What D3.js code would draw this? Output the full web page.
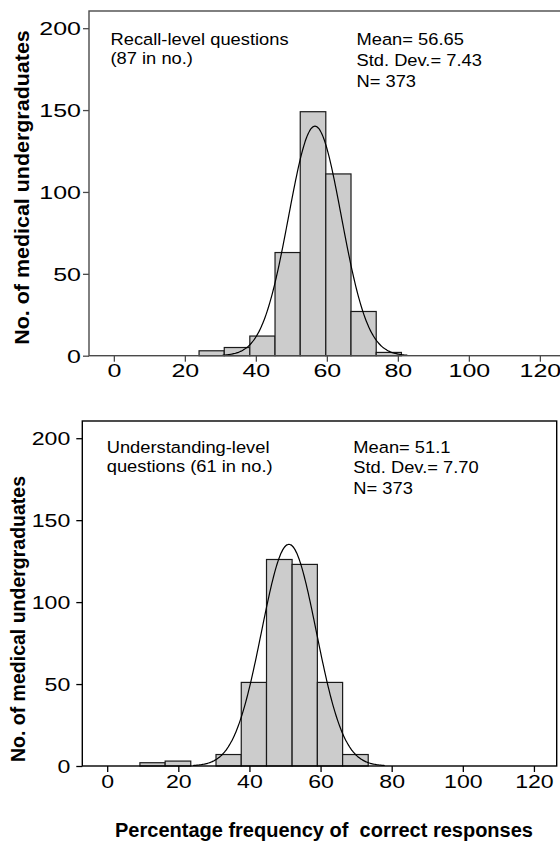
<!DOCTYPE html>
<html>
<head>
<meta charset="utf-8">
<script src="https://cdn.jsdelivr.net/npm/d3@7"></script>
<style>
  html, body { margin: 0; padding: 0; background: #fff; }
  svg { display: block; }
  text { font-family: "Liberation Sans", Arial, sans-serif; fill: #000; }
</style>
</head>
<body>
<svg id="chart" width="560" height="842"></svg>
<script>
// ---------------- data ----------------
const xTicks = [0, 20, 40, 60, 80, 100, 120];
const yTicks = [0, 50, 100, 150, 200];

const recallEdges  = [24.0, 31.1, 38.3, 45.4, 52.5, 59.7, 66.8, 73.9, 81.0];
const recallCounts = [3, 5, 12, 63, 149, 111, 27, 2];
const recallMean = 56.65, recallSD = 7.43, recallN = 373;
const recallLabel = ["Recall-level questions", "(87 in no.)"];
const recallStats = ["Mean= 56.65", "Std. Dev.= 7.43", "N= 373"];

const underEdges  = [9.2, 16.3, 23.5, 30.6, 37.7, 44.8, 52.0, 59.1, 66.2, 73.4];
const underCounts = [2, 3, 0, 7, 51, 126, 123, 51, 7];
const underMean = 51.1, underSD = 7.70, underN = 373;
const underLabel = ["Understanding-level", "questions (61 in no.)"];
const underStats = ["Mean= 51.1", "Std. Dev.= 7.70", "N= 373"];

const curveBinWidth = 7;
const yTitle = "No. of medical undergraduates";
const xTitle = "Percentage frequency of  correct responses";

// ---------------- drawing ----------------
const svg = d3.select("#chart");
const xDomain = [-7, 126.4];
const yDomain = [0, 210.5];

function drawPanel(c) {
  const g = svg.append("g");
  const x = d3.scaleLinear().domain(xDomain).range([c.left, c.right]);
  const y = d3.scaleLinear().domain(yDomain).range([c.bottom, c.top]);

  const bins = c.counts.map((v, i) => ({x0: c.edges[i], x1: c.edges[i + 1], v}))
                       .filter(d => d.v > 0);
  g.selectAll("rect.bar").data(bins).join("rect")
    .attr("class", "bar")
    .attr("x", d => x(d.x0))
    .attr("width", d => x(d.x1) - x(d.x0))
    .attr("y", d => y(d.v))
    .attr("height", d => y(0) - y(d.v))
    .attr("fill", "#cccccc")
    .attr("stroke", "#1a1a1a")
    .attr("stroke-width", 1.2);

  // fitted normal curve
  const lo = c.mean - 3.5 * c.sd, hi = c.mean + 3.5 * c.sd;
  const k = c.n * curveBinWidth / (c.sd * Math.sqrt(2 * Math.PI));
  const pts = d3.range(0, 201).map(i => {
    const v = lo + (hi - lo) * i / 200;
    return [v, k * Math.exp(-0.5 * Math.pow((v - c.mean) / c.sd, 2))];
  });
  g.append("path")
    .attr("d", d3.line().x(d => x(d[0])).y(d => y(d[1])).curve(d3.curveBasis)(pts))
    .attr("fill", "none").attr("stroke", "#000").attr("stroke-width", 1.2);

  // frame
  g.append("rect")
    .attr("x", c.left).attr("y", c.top)
    .attr("width", c.right - c.left).attr("height", c.bottom - c.top)
    .attr("fill", "none").attr("stroke", c.frameColor).attr("stroke-width", 1.4);

  // x axis
  const xa = g.append("g").attr("transform", `translate(0,${c.bottom})`)
    .call(d3.axisBottom(x).tickValues(xTicks).tickSize(6).tickSizeOuter(0));
  xa.select(".domain").remove();
  xa.selectAll(".tick line").attr("stroke", c.frameColor).attr("stroke-width", 1.3);
  xa.selectAll(".tick text")
    .attr("y", c.xLabelDy).attr("dy", null)
    .attr("font-size", c.tickSize).attr("fill", "#000")
    .attr("transform", `scale(${c.tickScale},1)`);

  // y axis
  const ya = g.append("g").attr("transform", `translate(${c.left},0)`)
    .call(d3.axisLeft(y).tickValues(yTicks).tickSize(6).tickSizeOuter(0));
  ya.select(".domain").remove();
  ya.selectAll(".tick line").attr("stroke", c.frameColor).attr("stroke-width", 1.3);
  ya.selectAll(".tick text")
    .attr("x", -c.yLabelGap / c.tickScale).attr("dy", "0.36em")
    .attr("font-size", c.tickSize).attr("fill", "#000")
    .attr("transform", `scale(${c.tickScale},1)`);

  // annotation texts
  c.label.forEach((t, i) => {
    g.append("text")
      .attr("transform", `translate(${c.labelX},${c.textY + i * 19.4}) scale(1.11,1)`)
      .attr("font-size", 16.5).text(t);
  });
  c.stats.forEach((t, i) => {
    g.append("text")
      .attr("transform", `translate(${c.statX},${c.textY + i * 20.8}) scale(1.11,1)`)
      .attr("font-size", 16.5).text(t);
  });

  // y title
  g.append("text")
    .attr("transform", `translate(${c.yTitleX},${c.yTitleY}) rotate(-90) scale(${c.yTitleScale},1)`)
    .attr("text-anchor", "middle")
    .attr("font-size", 19.5).attr("font-weight", "bold")
    .text(yTitle);
}

drawPanel({
  left: 89, right: 562.6, top: 11, bottom: 355.7,
  edges: recallEdges, counts: recallCounts,
  mean: recallMean, sd: recallSD, n: recallN,
  label: recallLabel, stats: recallStats,
  labelX: 110.5, statX: 356.5, textY: 45,
  frameColor: "#4a4a4a", tickSize: 18.5, tickScale: 1.35, xLabelDy: 21, yLabelGap: 8,
  yTitleX: 29, yTitleY: 187.5, yTitleScale: 1.1
});

drawPanel({
  left: 82.3, right: 556.7, top: 421, bottom: 766,
  edges: underEdges, counts: underCounts,
  mean: underMean, sd: underSD, n: underN,
  label: underLabel, stats: underStats,
  labelX: 106.7, statX: 353.3, textY: 452.5,
  frameColor: "#000", tickSize: 18.5, tickScale: 1.25, xLabelDy: 22, yLabelGap: 12,
  yTitleX: 25, yTitleY: 619, yTitleScale: 1.0
});

svg.append("text")
  .attr("x", 324).attr("y", 837)
  .attr("text-anchor", "middle")
  .attr("font-size", 20).attr("font-weight", "bold")
  .style("white-space", "pre")
  .text(xTitle);
</script>
</body>
</html>
